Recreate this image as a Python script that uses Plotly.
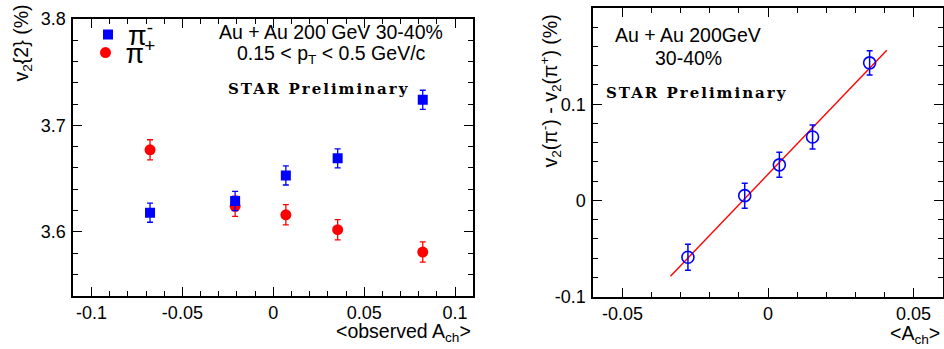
import plotly.graph_objects as go

# ---------------- data ----------------
# left panel: v2{2} vs <observed A_ch>
ach_obs = [-0.0678, -0.0210, 0.0069, 0.0354, 0.0822]
v2_pim = [3.618, 3.629, 3.653, 3.669, 3.724]
v2_pim_err = [0.009, 0.009, 0.009, 0.009, 0.009]
v2_pip = [3.677, 3.624, 3.616, 3.602, 3.581]
v2_pip_err = [0.0095, 0.0095, 0.0095, 0.0095, 0.0095]

# right panel: v2(pi-) - v2(pi+) vs <A_ch>
ach = [-0.0275, -0.0080, 0.0039, 0.0153, 0.0349]
dv2 = [-0.059, 0.005, 0.037, 0.066, 0.143]
dv2_err = [0.0135, 0.013, 0.013, 0.0125, 0.0125]
fit_x = [-0.0335, 0.0408]
fit_y = [-0.0788, 0.1562]

# tick labels
xl_ticks = [-0.1, -0.05, 0, 0.05, 0.1]
xl_text = ["-0.1", "-0.05", "0", "0.05", "0.1"]
yl_ticks = [3.6, 3.7, 3.8]
yl_text = ["3.6", "3.7", "3.8"]
xr_ticks = [-0.05, 0, 0.05]
xr_text = ["-0.05", "0", "0.05"]
yr_ticks = [-0.1, 0, 0.1, 0.2]
yr_text = ["-0.1", "0", "0.1", "0.2"]

SANS = "Liberation Sans, Arial, Helvetica, sans-serif"
SERIF = "DejaVu Serif, serif"
BLUE = "rgb(0,0,255)"
RED = "rgb(255,0,0)"

W, H = 944, 349


def px(x):
    return x / W


def py(y):
    return 1 - y / H


fig = go.Figure()

fig.add_trace(go.Scatter(
    x=ach_obs, y=v2_pip, mode="markers", name="π<sup>+</sup>", legend="legend2",
    marker=dict(symbol="circle", size=11, color=RED),
    error_y=dict(type="data", array=v2_pip_err, color=RED, thickness=1.3, width=3),
    xaxis="x", yaxis="y"))
fig.add_trace(go.Scatter(
    x=ach_obs, y=v2_pim, mode="markers", name="π<sup>-</sup>", legend="legend",
    marker=dict(symbol="square", size=10, color=BLUE),
    error_y=dict(type="data", array=v2_pim_err, color=BLUE, thickness=1.3, width=3),
    xaxis="x", yaxis="y"))

fig.add_trace(go.Scatter(
    x=fit_x, y=fit_y, mode="lines", showlegend=False,
    line=dict(color=RED, width=1.4), xaxis="x2", yaxis="y2"))
fig.add_trace(go.Scatter(
    x=ach, y=dv2, mode="markers", showlegend=False,
    marker=dict(symbol="circle-open", size=12, color=BLUE, line=dict(width=1.6, color=BLUE)),
    error_y=dict(type="data", array=dv2_err, color=BLUE, thickness=1.5, width=3),
    xaxis="x2", yaxis="y2"))

axis_common = dict(
    showgrid=False, zeroline=False, showline=True, linecolor="black", linewidth=2,
    mirror="allticks", ticks="inside", ticklen=9, tickwidth=1.3, tickcolor="black",
    automargin=False,
    tickfont=dict(family=SANS, size=18, color="black"),
)

legend_common = dict(xanchor="center", yanchor="middle",
                     font=dict(family=SANS, size=27, color="black"),
                     bgcolor="rgba(0,0,0,0)", itemwidth=30, borderwidth=0)

fig.update_layout(
    width=W, height=H, margin=dict(l=0, r=0, t=0, b=0),
    paper_bgcolor="white", plot_bgcolor="white",
    showlegend=True,
    legend=dict(x=px(123), y=py(35), **legend_common),
    legend2=dict(x=px(123), y=py(53), **legend_common),
    xaxis=dict(domain=[px(73.3), px(473.3)], range=[-0.11, 0.11], anchor="y",
               tickvals=xl_ticks, ticktext=xl_text,
               minor=dict(ticks="inside", ticklen=5, dtick=0.01, tickcolor="black", tickwidth=1),
               **axis_common),
    yaxis=dict(domain=[py(295.7), py(18.9)], range=[3.54, 3.8], anchor="x",
               tickvals=yl_ticks, ticktext=yl_text, ticklabelstandoff=2,
               minor=dict(ticks="inside", ticklen=5, dtick=0.02, tick0=3.6, tickcolor="black", tickwidth=1),
               **axis_common),
    xaxis2=dict(domain=[px(593.3), px(942.7)], range=[-0.06, 0.06], anchor="y2",
                tickvals=xr_ticks, ticktext=xr_text,
                minor=dict(ticks="inside", ticklen=5, dtick=0.01, tickcolor="black", tickwidth=1),
                **axis_common),
    yaxis2=dict(domain=[py(296.7), py(8)], range=[-0.1, 0.2], anchor="x2",
                tickvals=yr_ticks, ticktext=yr_text, ticklabelstandoff=2,
                minor=dict(ticks="inside", ticklen=5, dtick=0.02, tick0=0, tickcolor="black", tickwidth=1),
                **axis_common),
)

ann = []


def text(x, y, s, size=19.5, family=SANS, xanchor="center", yanchor="middle", angle=0):
    ann.append(dict(x=px(x), y=py(y), xref="paper", yref="paper", text=s, showarrow=False,
                    xanchor=xanchor, yanchor=yanchor, textangle=angle,
                    font=dict(family=family, size=size, color="black")))


STAR = "<b><span style='letter-spacing:2px'>STAR Preliminary</span></b>"

# left panel labels
text(331, 32, "Au + Au 200 GeV 30-40%")
text(331, 54, "0.15 &lt; p<sub>T</sub> &lt; 0.5 GeV/c")
text(318, 88.5, STAR, size=15, family=SERIF)
text(22, 3, "v<sub>2</sub>{2} (%)", size=19.5, xanchor="center", yanchor="top", angle=-90)
text(473.3, 332, "&lt;observed A<sub>ch</sub>&gt;", size=19.5, xanchor="right")

# right panel labels
text(687.5, 35, "Au + Au 200GeV")
text(688, 58, "30-40%")
text(696, 93, STAR, size=15, family=SERIF)
text(550, 13, "v<sub>2</sub>(π<sup>-</sup>) - v<sub>2</sub>(π<sup>+</sup>) (%)", size=19.5,
     xanchor="center", yanchor="top", angle=-90)
text(942, 334, "&lt;A<sub>ch</sub>&gt;", size=19.5, xanchor="right")

fig.update_layout(annotations=ann)

fig.write_html("out.html", config={"displayModeBar": False},
               post_script="document.body.style.margin='0';document.body.style.overflow='hidden';")
